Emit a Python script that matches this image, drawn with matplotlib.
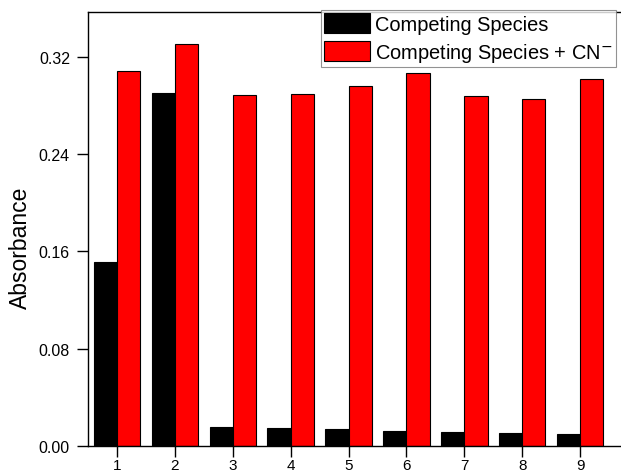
import matplotlib
matplotlib.use("Agg")
import matplotlib.pyplot as plt
import numpy as np

plt.rcParams['font.family'] = ['Liberation Sans', 'DejaVu Sans']

samples = [1, 2, 3, 4, 5, 6, 7, 8, 9]
species = [0.151, 0.290, 0.0159, 0.0148, 0.0140, 0.0126, 0.0118, 0.0110, 0.0099]
species_cn = [0.3085, 0.3307, 0.2887, 0.2896, 0.2961, 0.3068, 0.2879, 0.2854, 0.3019]
yticks = [0.00, 0.08, 0.16, 0.24, 0.32]

fig = plt.figure(figsize=(6.21, 4.77), dpi=100)
ax = fig.add_axes([88 / 621, 30 / 477, 1.02, 434 / 477])

x = np.array(samples)
w = 0.4
ax.bar(x - w / 2, species, width=w, color='black', edgecolor='black', lw=0.8,
       label='Competing Species')
ax.bar(x + w / 2, species_cn, width=w, color='#ff0000', edgecolor='black', lw=0.8,
       label='Competing Species + CN$^{-}$')

ax.set_xlim(0.5, 0.5 + 1.02 * 621 / 57.9)
ax.set_ylim(0, 0.357)
ax.set_xticks(samples)
ax.set_yticks(yticks)
ax.set_yticklabels(['%.2f' % v for v in yticks])
ax.tick_params(direction='out', length=8, width=1, labelsize=11.5)
ax.tick_params(axis='y', pad=5)
ax.tick_params(axis='x', pad=1, labelsize=11)
ax.set_ylabel('Absorbance', fontsize=16.5)
ax.yaxis.set_label_coords(-0.089, 0.46)
for s in ax.spines.values():
    s.set_linewidth(1)

# legend sits in the top-right corner, squeezed so the label still fits
leg = ax.legend(loc='upper left', bbox_to_anchor=(321 / 621, 1 - 11 / 477),
                bbox_transform=fig.transFigure, fontsize=14.4, frameon=True,
                fancybox=False, edgecolor='#777777', borderaxespad=0,
                handlelength=2.3, handleheight=1.15, labelspacing=0.35,
                borderpad=0.15, handletextpad=0.25)
leg.get_frame().set_linewidth(0.8)

fig.savefig('out.png', dpi=100)
